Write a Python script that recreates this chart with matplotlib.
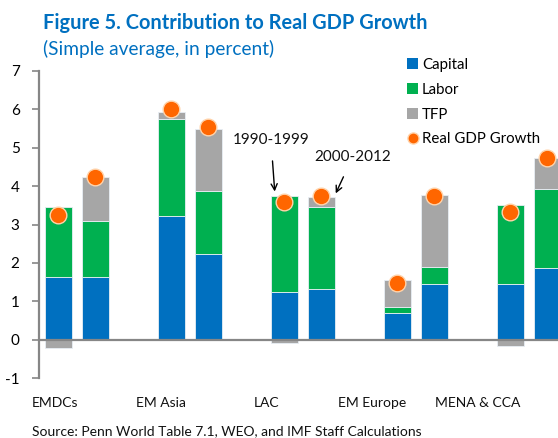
import matplotlib
matplotlib.use("Agg")
import matplotlib.pyplot as plt
import numpy as np
from matplotlib.patches import Patch
from matplotlib.lines import Line2D

regions = ["EMDCs", "EM Asia", "LAC", "EM Europe", "MENA & CCA"]
periods = ["1990-1999", "2000-2012"]

capital_90 = [1.62, 3.23, 1.23, 0.69, 1.44]
labor_90 = [1.83, 2.52, 2.52, 0.16, 2.08]
tfp_90 = [-0.22, 0.18, -0.10, 0.71, -0.17]
gdp_90 = [3.24, 6.01, 3.59, 1.47, 3.32]

capital_00 = [1.62, 2.22, 1.32, 1.46, 1.87]
labor_00 = [1.46, 1.66, 2.13, 0.44, 2.05]
tfp_00 = [1.15, 1.61, 0.27, 1.86, 0.80]
gdp_00 = [4.25, 5.53, 3.74, 3.74, 4.73]

yticks = [-1, 0, 1, 2, 3, 4, 5, 6, 7]

C_CAP = "#0070C0"
C_LAB = "#00B050"
C_TFP = "#A6A6A6"
C_DOT = "#FF6600"
C_DOT_EDGE = "#FFD3AA"
GRAY = "#868686"

plt.rcParams['font.family'] = ['Lato', 'DejaVu Sans']

W, H = 558, 438
fig = plt.figure(figsize=(W / 100, H / 100), dpi=100)

def fx(px):
    return px / W

def fy(py):
    return 1 - py / H

ax = fig.add_axes([fx(39), fy(378), fx(558) - fx(39), fy(71) - fy(378)])

x = np.arange(len(regions))
off = 0.164
bw = 0.24


def stack(xpos, cap, lab, tfp, gdp):
    cap = np.array(cap); lab = np.array(lab); tfp = np.array(tfp)
    ek = dict(edgecolor="#e8eef4", linewidth=0.6, zorder=2)
    ax.bar(xpos, cap, bw, color=C_CAP, **ek)
    ax.bar(xpos, lab, bw, bottom=cap, color=C_LAB, **ek)
    tfp_bottom = np.where(tfp >= 0, cap + lab, 0)
    ax.bar(xpos, tfp, bw, bottom=tfp_bottom, color=C_TFP, **ek)
    ax.plot(xpos, gdp, 'o', color=C_DOT, markersize=12, markeredgecolor=C_DOT_EDGE,
            markeredgewidth=1.0, linestyle='none', zorder=4)


stack(x - off, capital_90, labor_90, tfp_90, gdp_90)
stack(x + off, capital_00, labor_00, tfp_00, gdp_00)

ax.axhline(0, color=GRAY, linewidth=1.6, zorder=3)

ax.set_xlim(-0.336, 4.257)
ax.set_ylim(-1, 7)
ax.set_yticks(yticks)
ax.set_yticklabels([str(v) for v in yticks], fontsize=11)
ax.tick_params(axis='y', direction='out', length=5, width=1.2, color=GRAY, pad=9)
ax.set_xticks([])
for s in ["top", "right", "bottom"]:
    ax.spines[s].set_visible(False)
ax.spines["left"].set_color(GRAY)
ax.spines["left"].set_linewidth(1.6)
ax.set_facecolor("none")

# category labels row
lab_ax = fig.add_axes([fx(2), fy(421), fx(531) - fx(2), fy(385) - fy(421)])
lab_ax.set_xlim(-0.5, len(regions) - 0.5)
lab_ax.set_ylim(0, 1)
lab_ax.axis("off")
for i, r in enumerate(regions):
    lab_ax.text(i, 0.5, r, ha="center", va="center", fontsize=10, color="#111111")

# annotations
ax.annotate(periods[0], xy=(1.75, 3.86), xytext=(1.717, 5.20), ha="center", va="center",
            fontsize=11, color="#111111",
            arrowprops=dict(arrowstyle="->", color="black", lw=1.0,
                            shrinkA=8, shrinkB=0))
ax.annotate(periods[1], xy=(2.29, 3.81), xytext=(2.44, 4.76), ha="center", va="center",
            fontsize=11, color="#111111",
            arrowprops=dict(arrowstyle="->", color="black", lw=1.0,
                            shrinkA=8, shrinkB=0))

# legend
handles = [Patch(facecolor=C_CAP, edgecolor="none"),
           Patch(facecolor=C_LAB, edgecolor="none"),
           Patch(facecolor=C_TFP, edgecolor="none"),
           Line2D([], [], marker='o', color=C_DOT, markeredgecolor=C_DOT_EDGE,
                  markersize=8, linestyle='none')]
leg = fig.legend(handles, ["Capital", "Labor", "TFP", "Real GDP Growth"],
                 loc="upper left", bbox_to_anchor=(fx(407), fy(58)),
                 frameon=False, fontsize=10.8, handlelength=0.75, handleheight=0.75,
                 handletextpad=0.25, labelspacing=0.72, borderpad=0, borderaxespad=0)

# titles
fig.text(fx(43), fy(23), "Figure 5. Contribution to Real GDP Growth", fontsize=14.4,
         fontweight="bold", color=C_CAP, ha="left", va="center")
fig.text(fx(43), fy(49), "(Simple average, in percent)", fontsize=13.8,
         color=C_CAP, ha="left", va="center")
fig.text(fx(32), fy(431), "Source: Penn World Table 7.1, WEO, and IMF Staff Calculations",
         fontsize=10, color="#111111", ha="left", va="center")

fig.savefig("out.png", dpi=100)
